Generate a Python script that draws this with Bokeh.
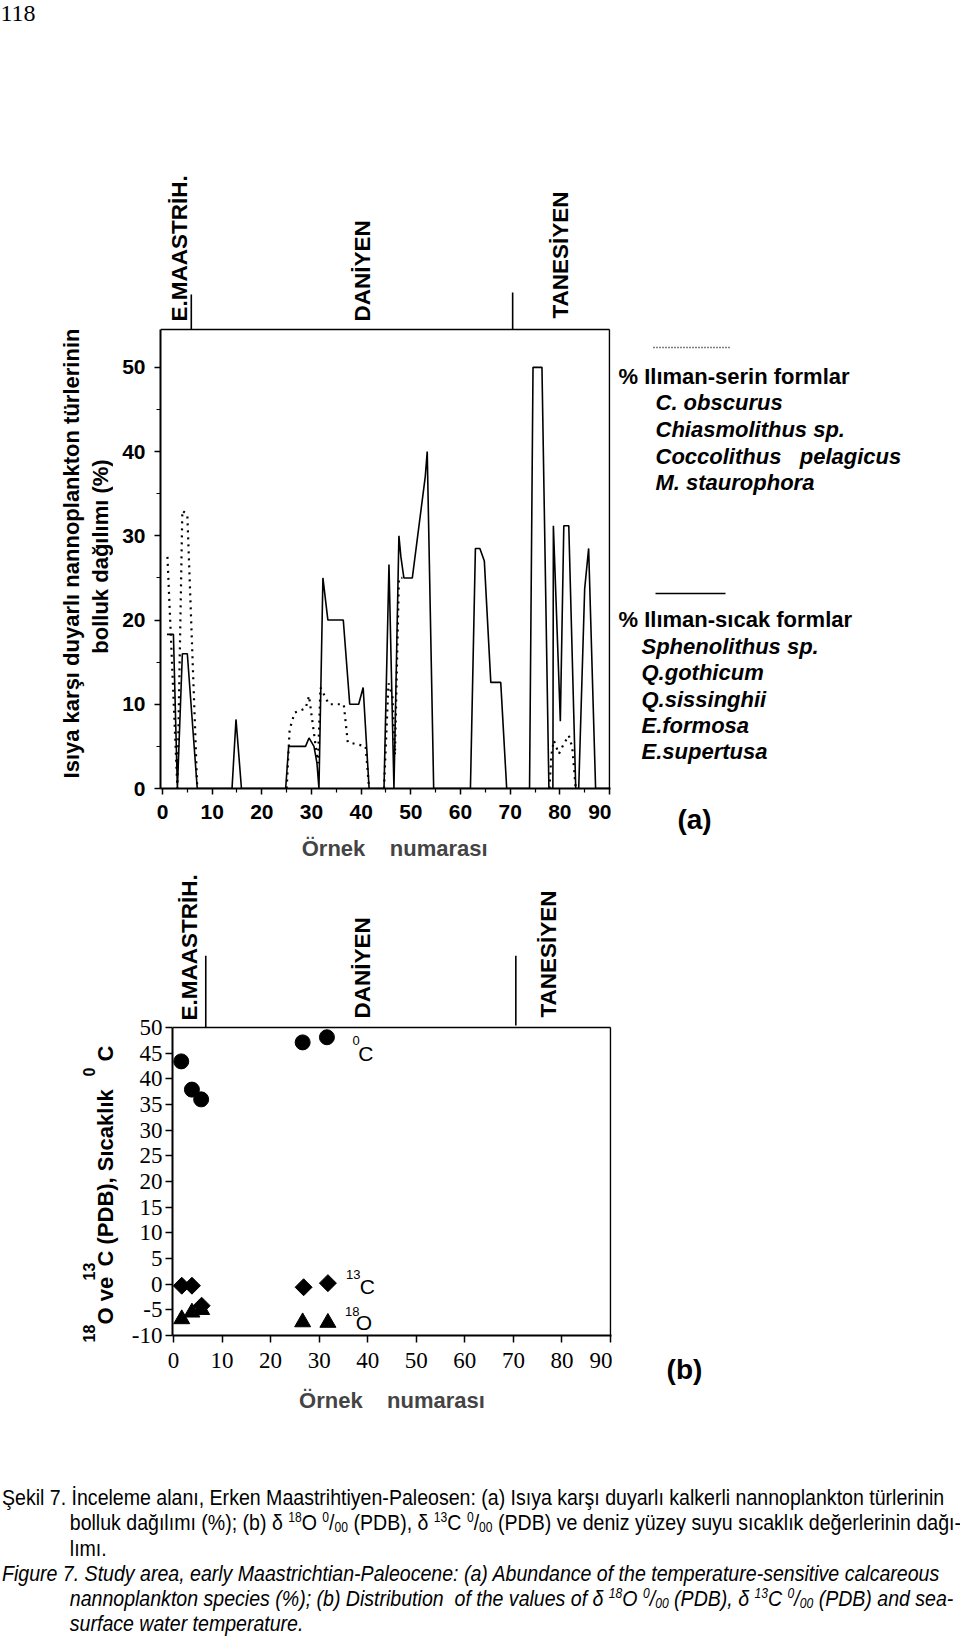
import math
from bokeh.plotting import figure
from bokeh.models import Range1d, Label, Div, FixedTicker
from bokeh.layouts import column, row
from bokeh.embed import file_html
from bokeh.resources import INLINE

nan = float("nan")

# ---------------- (a) abundance data ----------------
warm_x = [0.9, 2.2, 3.0, 4.0, 5.0, 7.0, 14.0, 14.8, 15.9,
          24.8, 25.4, 28.8, 29.5, 30.5, 31.1, 31.5, 32.3, 33.3, 36.4, 37.7, 39.5, 40.4, 41.6,
          44.6, 45.6, 46.6, 47.6, 48.0, 48.6, 50.3, 52.9, 53.3, 54.6,
          62.0, 63.0, 63.9, 64.8, 66.1, 68.1, 69.3,
          73.9, 74.6, 76.4, 77.8, 78.6, 78.7, 80.1, 80.8, 81.8, 83.2,
          83.8, 85.0, 85.8, 87.2, 90.0]
warm_y = [18.3, 18.3, 0, 16, 16, 0, 0, 8.2, 0,
          0, 5, 5, 6, 5, 3, 0, 25, 20, 20, 10, 10, 12, 0,
          0, 26.6, 0, 30, 27.5, 25, 25, 37, 40, 0,
          0, 28.5, 28.5, 27, 12.6, 12.6, 0,
          0, 50, 50, 0, 0, 31.2, 8, 31.2, 31.2, 0,
          0, 23.7, 28.5, 0, 0]
cool_x = [1.0, 3.0, 4.0, 5.0, 7.0, nan,
          25.0, 25.6, 26.6, 28.8, 29.5, 31.3, 31.8, 33.5, 36.5, 37.3, 40.9, 41.6, nan,
          44.6, 45.5, 46.3, 46.8, 47.6, 48.3, nan,
          77.9, 78.3, 78.8, 79.8, 80.8, 81.8, 82.5, 83.2]
cool_y = [27.5, 0, 33, 32.5, 0, nan,
          0, 7, 9, 9.5, 11, 3, 12, 10, 10, 5.5, 5, 0, nan,
          0, 12.5, 11, 4, 25, 25, nan,
          0, 4, 5.7, 4.1, 5.3, 6.3, 4.9, 0]
a_xticks = [0, 10, 20, 30, 40, 50, 60, 70, 80, 90]
a_xminor = [5, 15, 25, 35, 45, 55, 65, 75, 85]
a_yticks = [0, 10, 20, 30, 40, 50]
a_yminor = [5, 15, 25, 35, 45]
a_ytop = 54.5                      # top of the plotted box
a_stage_bounds = [5.8, 70.5]
a_stage_pos = [3.5, 40.3, 80.1]

# ---------------- (b) isotope / temperature data ----------------
temp_x = [1.6, 3.8, 5.7, 26.6, 31.6]
temp_y = [43.4, 37.9, 36.0, 47.1, 48.1]
c13_x = [1.7, 3.8, 5.8, 26.8, 31.8]
c13_y = [-0.3, -0.3, -4.2, -0.6, 0.2]
o18_x = [1.7, 3.8, 5.8, 26.6, 31.8]
o18_y = [-6.8, -5.5, -5.0, -7.4, -7.5]
b_xticks = [0, 10, 20, 30, 40, 50, 60, 70, 80, 90]
b_yticks = [-10, -5, 0, 5, 10, 15, 20, 25, 30, 35, 40, 45, 50]
b_stage_bounds = [6.65, 70.5]
b_stage_pos = [3.3, 38.9, 77.2]

stage_names = ["E.MAASTRİH.", "DANİYEN", "TANESİYEN"]

SANS = "Liberation Sans"
SERIF = "Liberation Serif"
V = math.pi / 2
NB = "\u00a0"


def lab(p, x, y, text, size, angle=0.0, align="left", baseline="middle",
        font=SANS, style="bold"):
    p.add_layout(Label(x=x, y=y, text=text, text_font=font,
                       text_font_size=f"{size}px", text_font_style=style,
                       angle=angle, text_align=align, text_baseline=baseline,
                       text_color="black"))


def text_fig(x0, y0, w, h):
    """A blank panel whose data coordinates equal page pixels."""
    f = figure(width=w, height=h, x_range=Range1d(x0, x0 + w), y_range=Range1d(y0 + h, y0),
               x_axis_type=None, y_axis_type=None, output_backend="svg",
               toolbar_location=None, min_border=0)
    f.outline_line_color = None
    return f


def style_axis(ax, font, size, style, tick_out, standoff):
    ax.axis_line_width = 2
    ax.axis_line_color = "black"
    ax.major_tick_in = 0
    ax.major_tick_out = tick_out
    ax.minor_tick_in = 0
    ax.minor_tick_out = 4
    ax.major_tick_line_width = 1.5
    ax.minor_tick_line_width = 1.2
    ax.major_label_text_font = font
    ax.major_label_text_font_style = style
    ax.major_label_text_font_size = f"{size}px"
    ax.major_label_text_color = "black"
    ax.major_label_standoff = standoff


def xlabel(ax, text, size, standoff):
    ax.axis_label = text
    ax.axis_label_text_font = SANS
    ax.axis_label_text_font_style = "bold"
    ax.axis_label_text_font_size = f"{size}px"
    ax.axis_label_standoff = standoff


# ======================= block (a) : page y 0..870 =======================
# frame: page x 160..610, y 0..788 ; sample 0 at x=162, 4.967 px/sample, 8.4227 px/%
A_PX = 8.4227
pa = figure(width=498, height=870, x_range=Range1d(-0.4, 90.2),
            y_range=Range1d(0, 788 / A_PX),
            output_backend="svg", toolbar_location=None,
            min_border_left=47, min_border_right=1, min_border_top=0,
            min_border_bottom=82)
pa.grid.visible = False
pa.outline_line_color = None
pa.line([-0.4, 90], [a_ytop, a_ytop], line_color="black", line_width=1.5)
pa.line([90, 90], [0, a_ytop], line_color="black", line_width=1.5)
pa.line(warm_x, warm_y, line_color="black", line_width=1.6)
pa.line(cool_x, cool_y, line_color="black", line_width=2.2, line_dash="2 5")
pa.xaxis.ticker = FixedTicker(ticks=a_xticks, minor_ticks=a_xminor)
pa.yaxis.ticker = FixedTicker(ticks=a_yticks, minor_ticks=a_yminor)
pa.yaxis.bounds = (0, a_ytop)
style_axis(pa.xaxis[0], SANS, 21, "bold", 6, 10)
style_axis(pa.yaxis[0], SANS, 21, "bold", 6, 9)
xlabel(pa.xaxis[0], f"{NB}{NB}{NB}Örnek{NB}{NB}{NB}{NB}numarası", 22, 14)

for xp, t in zip(a_stage_pos, stage_names):
    lab(pa, xp, (788 - (318 if t == "TANESİYEN" else 321)) / A_PX, t, 22.5, V)
for b in a_stage_bounds:
    top = (788 - (294 if b < 50 else 292)) / A_PX
    pa.line([b, b], [a_ytop, top], line_color="black", line_width=1.6)

left_a = text_fig(0, 0, 113, 870)
lab(left_a, 0, 12.5, "118", 24, align="left", font=SERIF, style="normal")
lab(left_a, 71, 553, "Isıya karşı duyarlı nannoplankton türlerinin", 22, V, "center")
lab(left_a, 100, 556, "bolluk dağılımı (%)", 22, V, "center")

right_a = text_fig(611, 0, 349, 870)
right_a.line([653, 729], [347, 347], line_color="black", line_width=1.6, line_dash="1 2")
lab(right_a, 618, 376, "% Ilıman-serin formlar", 22)
for yy, t in zip([402, 429, 456, 482],
                 ["C. obscurus", "Chiasmolithus sp.", f"Coccolithus{NB}{NB}{NB}pelagicus",
                  "M. staurophora"]):
    lab(right_a, 655, yy, t, 22, style="bold italic")
right_a.line([655, 725], [593, 593], line_color="black", line_width=1.6)
lab(right_a, 618, 619, "% Ilıman-sıcak formlar", 22)
for yy, t in zip([646, 672, 699, 725, 751],
                 ["Sphenolithus sp.", "Q.gothicum", "Q.sissinghii", "E.formosa", "E.supertusa"]):
    lab(right_a, 641, yy, t, 22, style="bold italic")
lab(right_a, 694, 819, "(a)", 28, align="center")

block_a = row(left_a, row(pa, spacing=0), right_a, spacing=0)

# ======================= block (b) : page y 870..1480 =======================
# frame: page x 172..611, y 870..1335 ; sample 0 at x=173, 4.856 px/sample, 5.1333 px/unit
B_PX = 5.1333
pb = figure(width=492, height=610, x_range=Range1d(-0.2, 90.2),
            y_range=Range1d(-10, -10 + 465 / B_PX),
            output_backend="svg", toolbar_location=None,
            min_border_left=52, min_border_right=1, min_border_top=0,
            min_border_bottom=145)
pb.grid.visible = False
pb.outline_line_color = None
pb.line([-0.2, 90], [50, 50], line_color="black", line_width=1.5)
pb.line([90, 90], [-10, 50], line_color="black", line_width=1.5)
pb.scatter(temp_x, temp_y, marker="circle", size=15, color="black")
pb.scatter(c13_x, c13_y, marker="square", angle=math.pi / 4, size=12, color="black")
pb.scatter(o18_x, o18_y, marker="triangle", size=16, color="black")
pb.xaxis.ticker = FixedTicker(ticks=b_xticks)
pb.yaxis.ticker = FixedTicker(ticks=b_yticks)
pb.yaxis.bounds = (-10, 50)
pb.yaxis.major_label_overrides = {t: str(t) for t in b_yticks}
style_axis(pb.xaxis[0], SERIF, 23, "normal", 7, 10)
style_axis(pb.yaxis[0], SERIF, 23, "normal", 7, 3)
xlabel(pb.xaxis[0], f"Örnek{NB}{NB}{NB}{NB}numarası", 22, 17)

for xp, t, yb in zip(b_stage_pos, stage_names, [1020, 1018, 1017]):
    lab(pb, xp, 50 + (1027 - yb) / B_PX, t, 22.5, V)
for b in b_stage_bounds:
    pb.line([b, b], [50 if b < 50 else 50.4, 64.0], line_color="black", line_width=1.6)

# series tags inside the frame
lab(pb, 37.6, 47.4, "0", 13, align="center", style="normal")
lab(pb, 39.6, 45.0, "C", 21, align="center", style="normal")
lab(pb, 37.0, 1.9, "13", 13, align="center", style="normal")
lab(pb, 39.9, -0.5, "C", 21, align="center", style="normal")
lab(pb, 36.8, -5.3, "18", 13, align="center", style="normal")
lab(pb, 39.2, -7.5, "O", 21, align="center", style="normal")

left_b = text_fig(0, 870, 120, 610)
lab(left_b, 88, 1342, "18", 16, V)
lab(left_b, 105, 1324, "O ve", 22, V)
lab(left_b, 88, 1280, "13", 16, V)
lab(left_b, 105, 1266, "C (PDB), Sıcaklık", 22, V)
lab(left_b, 88, 1076, "0", 16, V)
lab(left_b, 105, 1061, "C", 22, V)

right_b = text_fig(612, 870, 348, 610)
lab(right_b, 684, 1369, "(b)", 28, align="center")

block_b = row(left_b, row(pb, spacing=0), right_b, spacing=0)

# ======================= caption : page y 1480..1636 =======================
SUP = '<sup style="font-size:62%;line-height:0;vertical-align:0.55em">'
SUB = '<sub style="font-size:62%;line-height:0;vertical-align:-0.15em">'
permil = f'{SUP}0</sup>/{SUB}00</sub>'
cap = (
    '<div style="position:relative;left:-3px;top:0px;font-family:\'Liberation Sans\',Arial,sans-serif;'
    'font-size:22.5px;line-height:25.3px;color:#000;white-space:nowrap;'
    'transform:scaleX(0.869);transform-origin:0 0;width:1105px;padding-top:0px">'
    '<div>Şekil 7. İnceleme alanı, Erken Maastrihtiyen-Paleosen: (a) Isıya karşı duyarlı kalkerli nannoplankton türlerinin</div>'
    f'<div style="padding-left:78px">bolluk dağılımı (%); (b) δ {SUP}18</sup>O {permil} (PDB), δ {SUP}13</sup>C {permil} (PDB) ve deniz yüzey suyu sıcaklık değerlerinin dağı-</div>'
    '<div style="padding-left:78px">lımı.</div>'
    '<div style="font-style:italic">Figure 7. Study area, early Maastrichtian-Paleocene: (a) Abundance of the temperature-sensitive calcareous</div>'
    f'<div style="font-style:italic;padding-left:78px">nannoplankton species (%); (b) Distribution &nbsp;of the values of δ {SUP}18</sup>O {permil} (PDB), δ {SUP}13</sup>C {permil} (PDB) and sea-</div>'
    '<div style="font-style:italic;padding-left:78px">surface water temperature.</div>'
    '</div>'
)
div = Div(text=cap, width=960, height=156)

layout = column(block_a, block_b, div, spacing=0)
open("out.html", "w").write(file_html(layout, INLINE))
